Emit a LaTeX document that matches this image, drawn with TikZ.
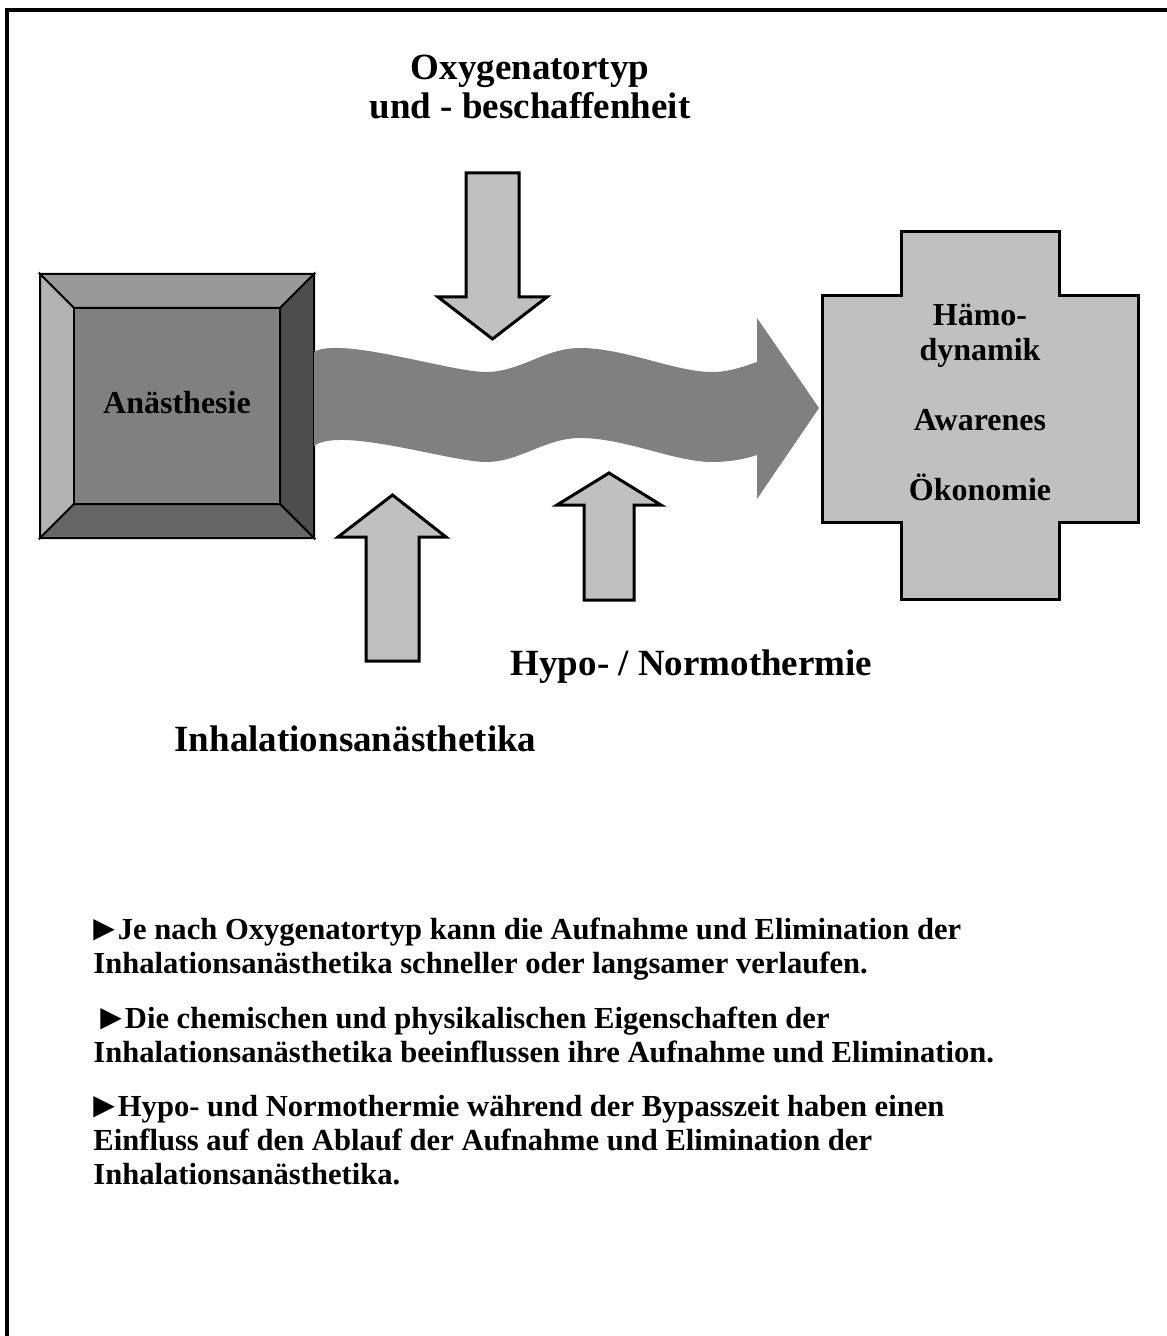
\documentclass[tikz,border=0pt]{standalone}
\usepackage{fontspec}
\setmainfont{Liberation Serif}
\newfontfamily\pointerfont{DejaVu Sans}
\definecolor{silver}{HTML}{C0C0C0}
\definecolor{midgray}{HTML}{808080}
\definecolor{bevtop}{HTML}{999999}
\definecolor{bevleft}{HTML}{B3B3B3}
\definecolor{bevright}{HTML}{4D4D4D}
\definecolor{bevbottom}{HTML}{666666}
\newcommand{\ptr}{\raisebox{1.2pt}{\pointerfont\fontsize{14}{14}\selectfont ▶}\kern1.5pt}
\begin{document}
\begin{tikzpicture}[x=.5pt,y=-.5pt,line join=miter,
  block/.style={draw=black,line width=1.5pt,fill=silver},
  bevel/.style={draw=black,line width=1pt},
  head/.style={font=\fontsize{18.5}{19.5}\selectfont\bfseries,align=center,inner sep=0pt},
  inbox/.style={font=\fontsize{16}{17.5}\selectfont\bfseries,align=center,inner sep=0pt},
  note/.style={font=\fontsize{15.3}{17}\selectfont\bfseries,align=left,inner sep=0pt,anchor=north west}]
\useasboundingbox (0,0) rectangle (1166,1336);
% frame
\draw[line width=2pt] (7,1340) -- (7,10) -- (1170,10);
% bevelled box
\draw[bevel,fill=bevtop] (40,274) -- (314,274) -- (280,308) -- (74,308) -- cycle;
\draw[bevel,fill=bevleft] (40,274) -- (74,308) -- (74,504) -- (40,538) -- cycle;
\draw[bevel,fill=bevright] (314,274) -- (314,538) -- (280,504) -- (280,308) -- cycle;
\draw[bevel,fill=bevbottom] (40,538) -- (314,538) -- (280,504) -- (74,504) -- cycle;
\draw[bevel,fill=midgray] (74,308) rectangle (280,504);
\node[inbox,anchor=base] (anae) at (177,414) {Anästhesie};
% wavy arrow
\fill[midgray] (314,352) .. controls (340,336) and (450,372) .. (486,372)
  .. controls (520,372) and (545,348) .. (580,348)
  .. controls (625,348) and (675,372) .. (712,372)
  .. controls (730,372) and (745,366) .. (757,362)
  -- (757,318) -- (819,408) -- (757,499) -- (757,455)
  .. controls (745,459) and (730,462) .. (712,462)
  .. controls (675,462) and (625,438) .. (580,438)
  .. controls (545,438) and (520,462) .. (486,462)
  .. controls (450,462) and (340,426) .. (314,446) -- cycle;
% block arrows
\draw[block] (466,173) -- (519,173) -- (519,297) -- (547,297) -- (492.5,339) -- (438,297) -- (466,297) -- cycle;
\draw[block] (366,661) -- (366,537) -- (338,537) -- (392.5,495) -- (446,537) -- (419,537) -- (419,661) -- cycle;
\draw[block] (584,600) -- (584,505) -- (557,505) -- (609,473) -- (661,505) -- (634,505) -- (634,600) -- cycle;
% cross
\draw[block] (901,232) -- (1059,232) -- (1059,296) -- (1138,296) -- (1138,522) -- (1059,522)
  -- (1059,599) -- (901,599) -- (901,522) -- (822,522) -- (822,296) -- (901,296) -- cycle;
\node[inbox,anchor=north] (effekt) at (980,304) {Hämo-\\dynamik\\[17.5pt]Awarenes\\[17.5pt]Ökonomie};
% labels
\node[head,anchor=north] (oxy) at (530,55) {Oxygenatortyp\\und - beschaffenheit};
\node[head,anchor=base] (hypo) at (691.5,675) {Hypo- / Normothermie};
\node[head,anchor=base] (inhal) at (355.5,751) {Inhalationsanästhetika};
% notes
\node[note] (note1) at (93,918) {\ptr Je nach Oxygenatortyp kann die Aufnahme und Elimination der\\Inhalationsanästhetika schneller oder langsamer verlaufen.};
\node[note] (note2) at (93,1007) {\hspace{3.5pt}\ptr Die chemischen und physikalischen Eigenschaften der\\Inhalationsanästhetika beeinflussen ihre Aufnahme und Elimination.};
\node[note] (note3) at (93,1095) {\ptr Hypo- und Normothermie während der Bypasszeit haben einen\\Einfluss auf den Ablauf der Aufnahme und Elimination der\\Inhalationsanästhetika.};
\end{tikzpicture}
\end{document}
